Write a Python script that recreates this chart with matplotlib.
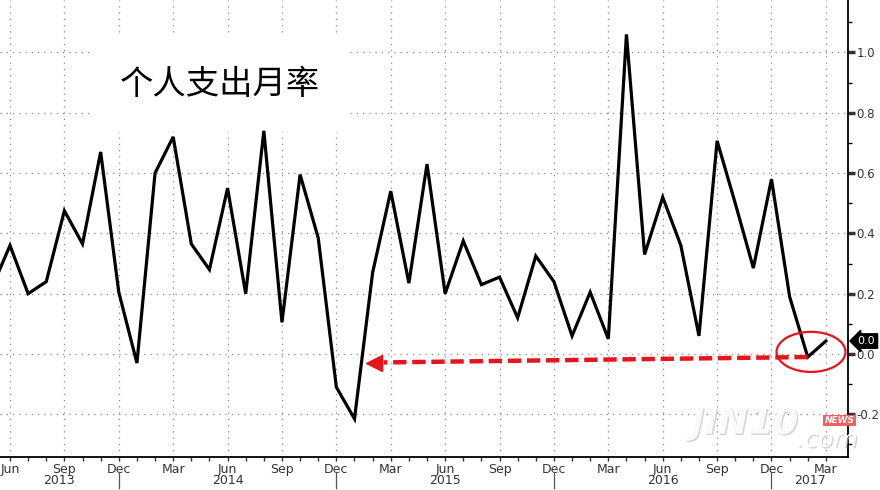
import numpy as np
import pandas as pd
import matplotlib
matplotlib.use("Agg")
import matplotlib.pyplot as plt
import matplotlib.transforms as mtransforms
import matplotlib.patheffects as pe
from matplotlib.patches import Ellipse
from matplotlib.ticker import MultipleLocator, FixedLocator, FuncFormatter

plt.rcParams['font.family'] = ['DejaVu Sans', 'Noto Sans CJK SC']

# --- DATA: personal spending, m/m % (May 2013 .. Mar 2017) ---
months = pd.period_range("2013-05", "2017-03", freq="M")
values = [0.22, 0.36, 0.20, 0.24, 0.475, 0.365, 0.67, 0.205,
          -0.03, 0.60, 0.72, 0.365, 0.28, 0.55, 0.20, 0.74, 0.105, 0.595, 0.385, -0.11,
          -0.215, 0.27, 0.54, 0.235, 0.63, 0.20, 0.375, 0.23, 0.255, 0.12, 0.325, 0.24,
          0.06, 0.205, 0.05, 1.06, 0.33, 0.52, 0.36, 0.06, 0.707, 0.50, 0.285, 0.58,
          0.19, -0.01, 0.043]
title = "个人支出月率"
last_label = "0.0"
month_names = {3: "Mar", 6: "Jun", 9: "Sep", 12: "Dec"}

x = np.arange(len(months))
txt_col = "#333333"

fig = plt.figure(figsize=(8.8, 4.9), dpi=100)
ax = fig.add_axes([0, 33 / 490, 848 / 880, 457 / 490])

ax.plot(x, values, color="black", lw=2.3, solid_joinstyle="miter", zorder=4)

ax.set_xlim(0.448, 47.22)
ax.set_ylim(-0.3416, 1.174)

# spines
for s in ["left", "top"]:
    ax.spines[s].set_visible(False)
for s in ["right", "bottom"]:
    ax.spines[s].set_linewidth(1.3)

# x ticks: quarterly labels, monthly minor ticks
q_idx = [i for i, p in enumerate(months) if p.month in month_names]
ax.xaxis.set_major_locator(FixedLocator(q_idx))
ax.set_xticklabels([month_names[months[i].month] for i in q_idx])
ax.xaxis.set_minor_locator(FixedLocator(x))
ax.tick_params(axis="x", which="both", direction="out", length=3, width=1,
               labelsize=9, colors=txt_col, pad=1)

# y ticks on the right
ax.yaxis.tick_right()
ax.yaxis.set_major_locator(MultipleLocator(0.2))
ax.yaxis.set_minor_locator(MultipleLocator(0.1))
ax.yaxis.set_major_formatter(FuncFormatter(lambda v, p: f"{v:.1f}" if abs(v) > 1e-9 else "0.0"))
ax.tick_params(axis="y", which="major", direction="out", length=5, width=2.5,
               labelsize=8.5, colors=txt_col, pad=1)
ax.tick_params(axis="y", which="minor", direction="out", length=3, width=1)

ax.grid(which="major", linestyle=(0, (1, 4)), color="#8a8a8a", lw=0.9)

# year labels and separators
trans = mtransforms.blended_transform_factory(ax.transData, ax.transAxes)
dec_idx = [i for i, p in enumerate(months) if p.month == 12]
x0, x1 = ax.get_xlim()
bounds = [x0] + dec_idx + [x1]
years = sorted(set(p.year for p in months))
for k, yr in enumerate(years):
    a, b = max(bounds[k], x0), min(bounds[k + 1], x1)
    ax.text((a + b) / 2, -0.052, str(yr), transform=trans, ha="center", va="center",
            fontsize=9, color=txt_col)
for d in dec_idx:
    ax.plot([d, d], [-0.033, -0.068], transform=trans, color="#555555", lw=0.9,
            clip_on=False)

# title with white patch behind it
ax.text(0.1415, 0.815, title, transform=ax.transAxes, ha="left", va="center",
        fontsize=24, family=["Noto Sans CJK SC"], color="black", zorder=3,
        bbox=dict(boxstyle="square,pad=0.9", fc="white", ec="none"))

# red dashed arrow from latest low back to Jan 2015 low
ilow = len(values) - 2
ax.plot([ilow, 21.6], [values[ilow], -0.028], color="#e8141b", lw=3.2,
        linestyle=(0, (3, 1.3)), zorder=5, solid_capstyle="butt")
ax.plot([21.1], [-0.029], marker="<", ms=12, color="#e8141b", mec="#e8141b", zorder=5)

# red ellipse around the last points
ax.add_patch(Ellipse((45.18, 0.007), 3.8, 0.133, fill=False, ec="#e8141b", lw=1.6, zorder=6))

# last value tag on the right axis
ax.annotate(last_label, xy=(1.0, values[-1]), xycoords=ax.get_yaxis_transform(),
            xytext=(7, 0), textcoords="offset points", ha="left", va="center",
            fontsize=8, color="white", annotation_clip=False,
            bbox=dict(boxstyle="larrow,pad=0.2", fc="black", ec="black"))

# watermark
shadow = [pe.withSimplePatchShadow(offset=(1, -1), shadow_rgbFace="#bbbbbb", alpha=0.6)]
fig.text(0.785, 0.115, "JIN10", fontsize=26, fontweight="bold", style="italic",
         color="white", alpha=0.9, path_effects=shadow)
fig.text(0.905, 0.088, ".com", fontsize=18, style="italic", color="white",
         path_effects=shadow)
fig.text(0.937, 0.142, "NEWS", fontsize=6.5, fontweight="bold", style="italic", color="white",
         ha="left", va="center",
         bbox=dict(boxstyle="square,pad=0.15", fc="#f06060", ec="none"))

fig.savefig("out.png", dpi=100)
